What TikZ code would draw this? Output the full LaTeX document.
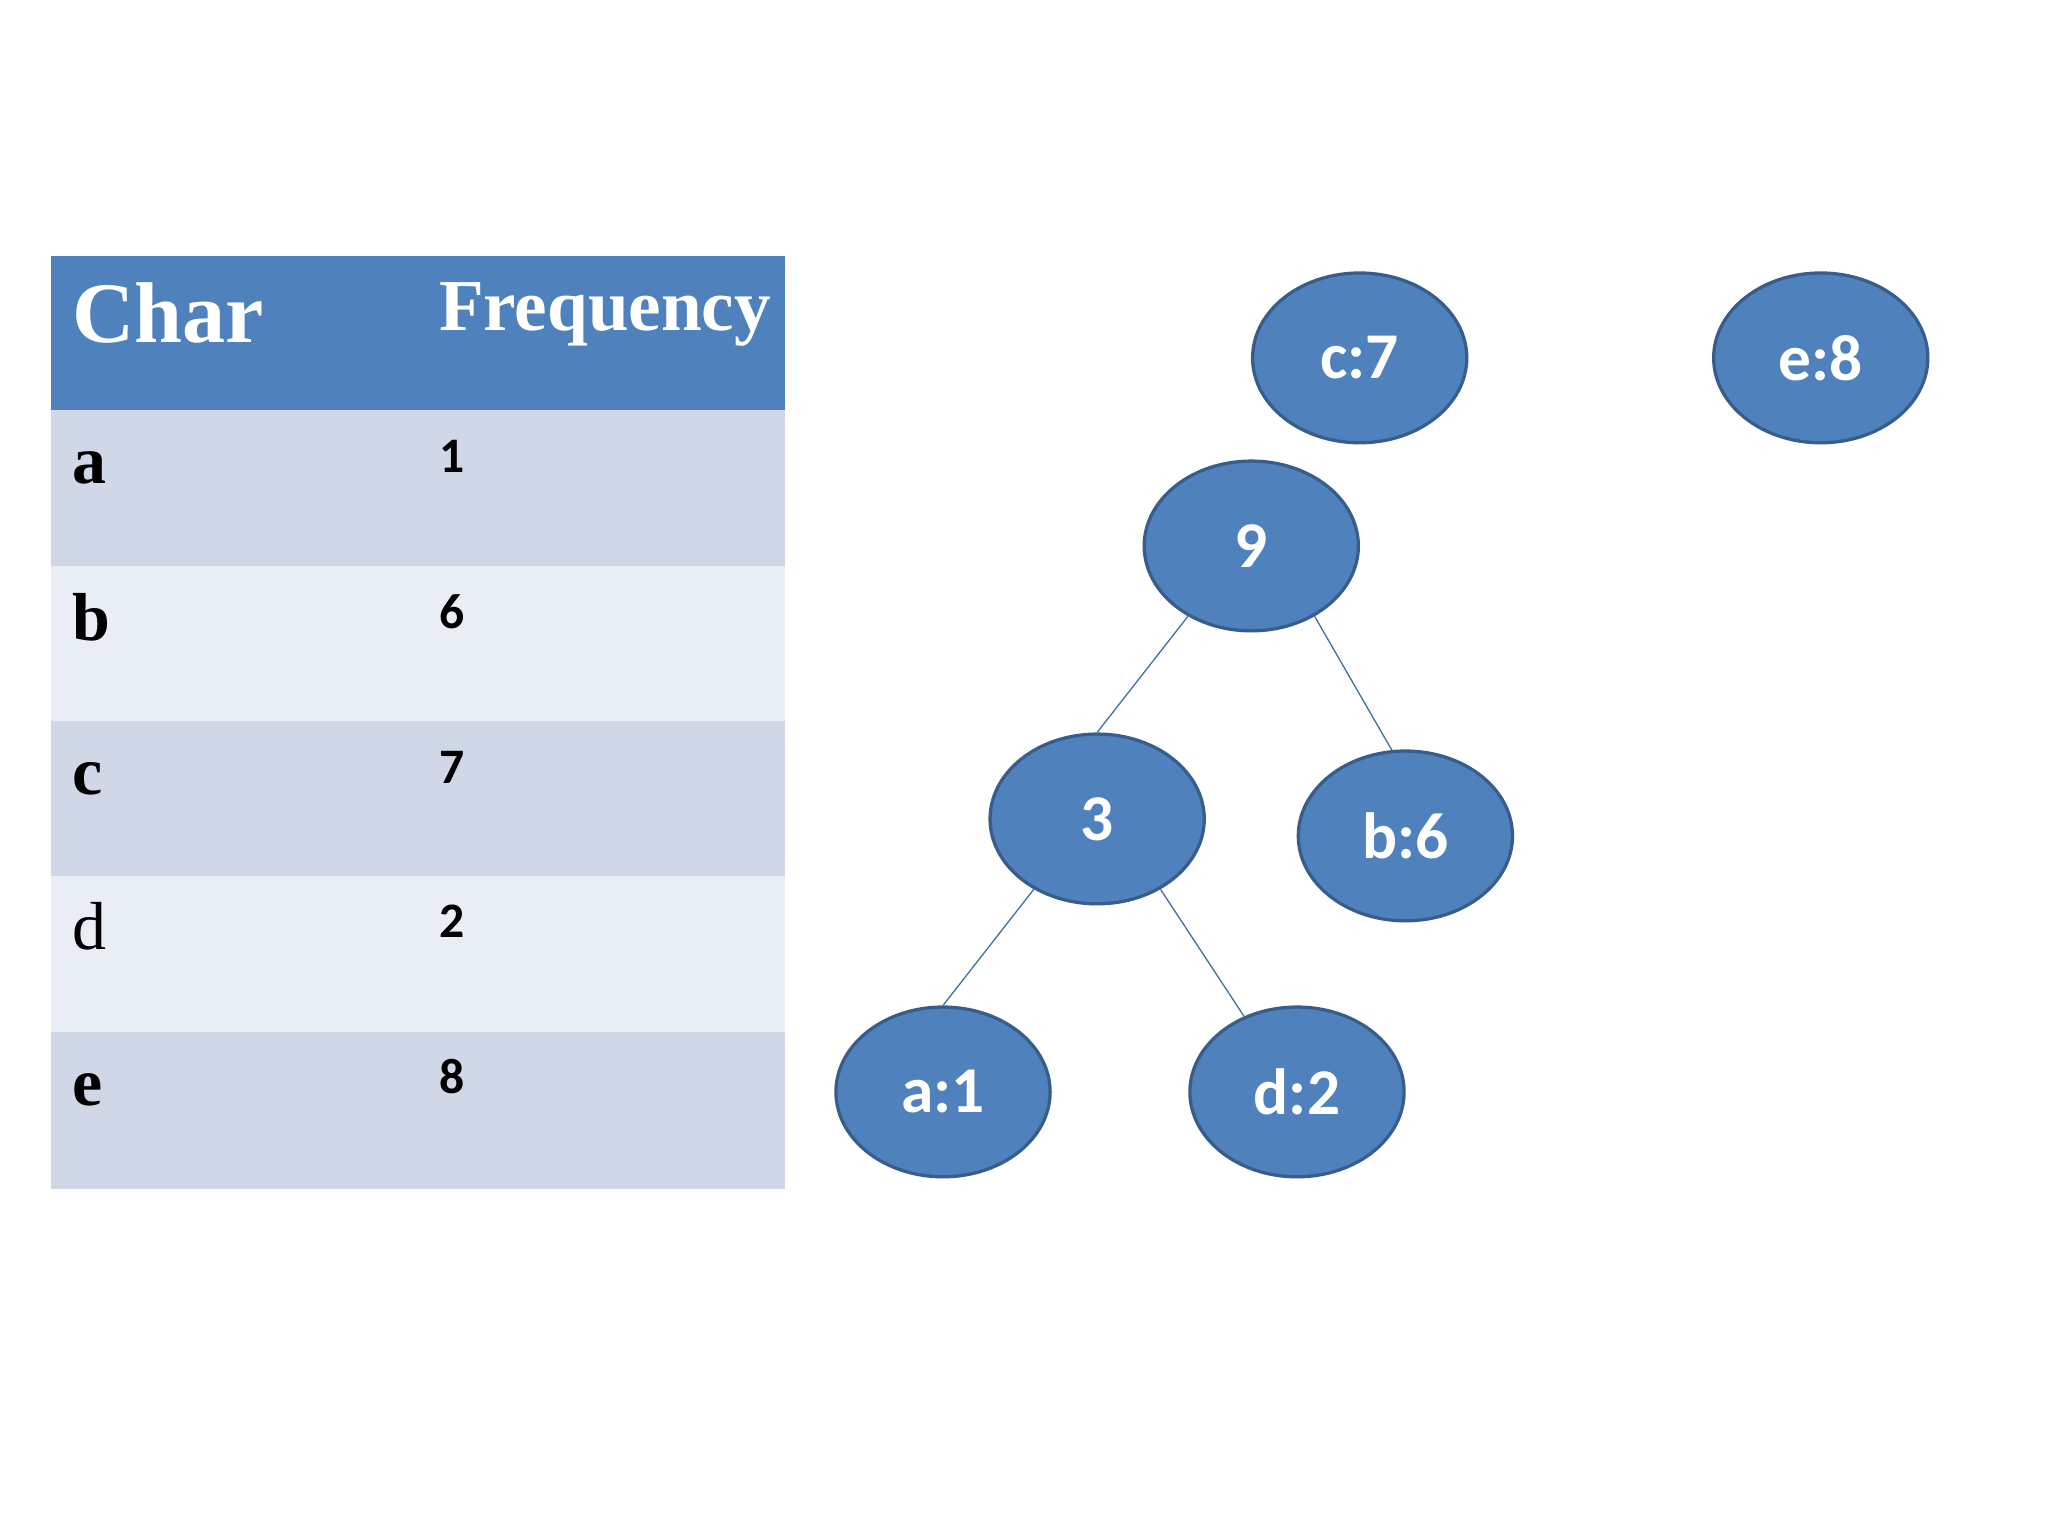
\documentclass[tikz,border=0pt]{standalone}
\usepackage{fontspec}
\setmainfont{Liberation Serif}
\newfontfamily\calib{Carlito}
\usetikzlibrary{shapes.geometric}
\definecolor{hdr}{HTML}{4F81BD}
\definecolor{rowa}{HTML}{D0D8E8}
\definecolor{rowb}{HTML}{E9EDF4}
\definecolor{edge}{HTML}{385D8A}
\begin{document}
\begin{tikzpicture}[x=1pt,y=-1pt,
  hnode/.style={ellipse,draw=edge,line width=2.5pt,fill=hdr,minimum width=164pt,minimum height=130pt,inner sep=0pt,text=white,font=\calib\bfseries\fontsize{50}{50}\selectfont},
  link/.style={draw=hdr!85!black,line width=1pt},
  cell/.style={anchor=base west,inner sep=0pt},
  rl/.style={cell,font=\bfseries\fontsize{52}{52}\selectfont},
  num/.style={cell,font=\calib\bfseries\fontsize{38}{38}\selectfont}]
\useasboundingbox (0,0) rectangle (1568,1176);
\fill[white] (0,0) rectangle (1568,1176);
\fill[hdr] (39,196) rectangle (601,314);
\fill[rowa] (39,314) rectangle (601,433);
\fill[rowb] (39,433) rectangle (601,552);
\fill[rowa] (39,552) rectangle (601,671);
\fill[rowb] (39,671) rectangle (601,790);
\fill[rowa] (39,790) rectangle (601,910);
\node[cell,text=white,font=\bfseries\fontsize{66}{66}\selectfont] (hc) at (55,262) {Char};
\node[cell,text=white,font=\bfseries\fontsize{56}{56}\selectfont] (hf) at (336,253) {Frequency};
\node[rl] (ra) at (55,370) {a};
\node[rl] (rb) at (55,490) {b};
\node[rl] (rc) at (55,608) {c};
\node[rl,font=\fontsize{52}{52}\selectfont] (rd) at (55,727) {d};
\node[rl] (re) at (55,846) {e};
\node[num] (na) at (336,362) {1};
\node[num] (nb) at (336,481) {6};
\node[num] (nc) at (336,600) {7};
\node[num] (nd) at (336,718) {2};
\node[num] (ne) at (336,837) {8};
\node[hnode] (c7) at (1041,274) {c:7};
\node[hnode] (e8) at (1394,274) {e:8};
\node[hnode] (n9) at (958,418) {9};
\node[hnode] (n3) at (840,627) {3};
\node[hnode] (b6) at (1076,640) {b:6};
\node[hnode] (a1) at (722,836) {a:1};
\node[hnode] (d2) at (993,836) {d:2};
\draw[link] (n9.228) -- (n3.north);
\draw[link] (n9.312) -- (b6.99);
\draw[link] (n3.228) -- (a1.north);
\draw[link] (n3.312) -- (d2.125);
\end{tikzpicture}
\end{document}
